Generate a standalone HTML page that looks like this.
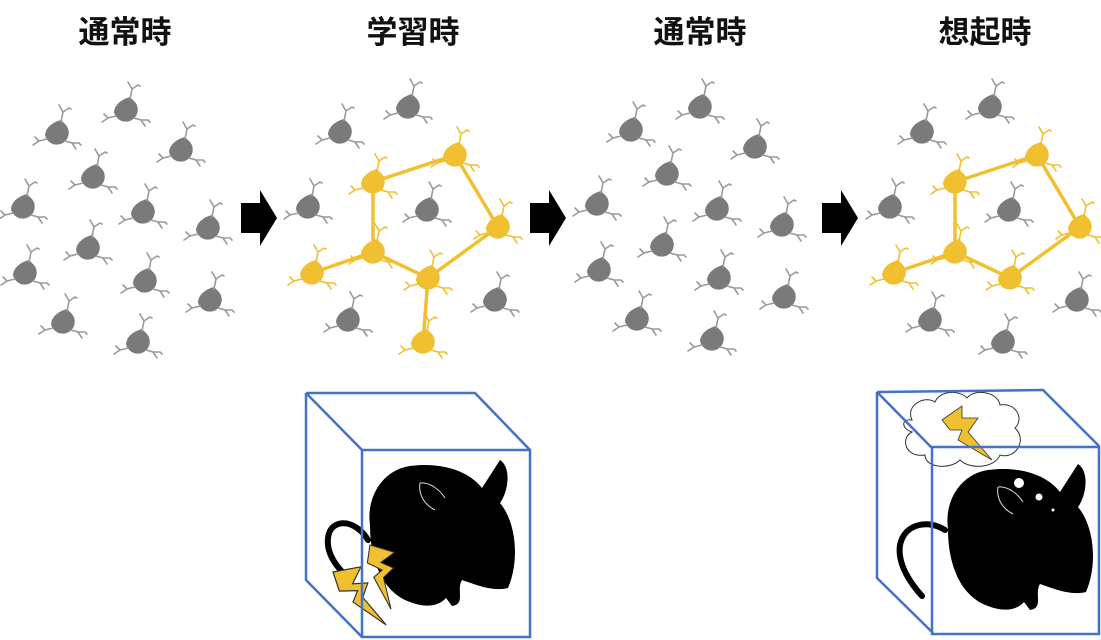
<!DOCTYPE html>
<html><head><meta charset="utf-8"><style>
html,body{margin:0;padding:0;background:#fff;}
svg{display:block}
text{font-family:"Liberation Sans","Noto Sans CJK JP",sans-serif;font-weight:bold;font-size:31px;fill:#111}
</style></head><body>
<svg width="1101" height="640" viewBox="0 0 1101 640" xmlns="http://www.w3.org/2000/svg">
<defs>
<g id="nb">
  <path d="M-12,2 A12,12 0 1 0 9,-8 L4,-13 C0,-12 -11,-8 -12,2 Z"/>
</g>
<g id="nd" fill="none" stroke-width="1.6" stroke-linecap="round">
  <path d="M4,-11 L6,-21 M6,-21 L2,-28 M6,-21 L12,-25 L14,-24"/>
  <path d="M-10,6 L-18,8 M-18,8 L-22,4 M-18,8 L-24,12"/>
  <path d="M8,8 L15,10 L19,16 M15,10 L22,10 L24,12"/>
</g>
<g id="g"><use href="#nb" fill="#7a7a7a"/><use href="#nd" stroke="#9a9a9a"/></g>
<g id="y"><use href="#nb" fill="#f0c030"/><use href="#nd" stroke="#f0c030"/></g>
<g id="arrow"><path d="M0,13 L19,13 L19,0 L36,28 L19,56 L19,43 L0,43 Z" fill="#000"/></g>
<path id="bolt" d="M0,0 L18,-6 L14,6 L24,4 L22,14 L40,30 L16,18 L18,10 L6,12 Z" fill="#f0c030" stroke="#333" stroke-width="0.8"/>
<g id="mouse">
  <path d="M370,525 C366,498 382,470 410,466 C440,462 468,470 482,488 L500,460 C512,468 508,492 500,503 C516,522 520,560 508,588 C492,592 474,584 462,580 C456,590 466,604 452,606 L446,598 C436,609 420,606 410,602 C382,592 370,560 370,525 Z" fill="#000"/>
  <path d="M420,483 C430,482 440,490 445,498 M420,483 C418,495 425,505 435,510" fill="none" stroke="#ddd" stroke-width="1"/>
</g>
</defs>

<text x="125" y="43" text-anchor="middle">通常時</text>
<text x="413" y="43" text-anchor="middle">学習時</text>
<text x="700" y="43" text-anchor="middle">通常時</text>
<text x="985" y="43" text-anchor="middle">想起時</text>

<g id="p1">
<use href="#g" x="57" y="133"/><use href="#g" x="126" y="110"/><use href="#g" x="181" y="150"/>
<use href="#g" x="93" y="177"/><use href="#g" x="23" y="207"/><use href="#g" x="143" y="212"/>
<use href="#g" x="208" y="228"/><use href="#g" x="88" y="248"/><use href="#g" x="25" y="273"/>
<use href="#g" x="145" y="281"/><use href="#g" x="210" y="300"/><use href="#g" x="63" y="322"/>
<use href="#g" x="138" y="342"/>
</g>
<use href="#p1" x="574" y="-3"/>

<use href="#arrow" x="241" y="190"/>
<use href="#arrow" x="530" y="190"/>
<use href="#arrow" x="822" y="190"/>

<g id="p2">
<use href="#g" x="340" y="132"/><use href="#g" x="408" y="107"/><use href="#g" x="308" y="207"/>
<use href="#g" x="427" y="210"/><use href="#g" x="348" y="320"/><use href="#g" x="495" y="300"/>
<g stroke="#f0c030" stroke-width="3.5" fill="none">
<path d="M373,182 L455,155 L498,227 L428,278 L373,252 Z M373,252 L312,273"/>
</g>
<use href="#y" x="373" y="182"/><use href="#y" x="455" y="155"/><use href="#y" x="498" y="227"/>
<use href="#y" x="373" y="252"/><use href="#y" x="428" y="278"/><use href="#y" x="312" y="273"/>
</g>
<line x1="428" y1="278" x2="423" y2="342" stroke="#f0c030" stroke-width="3.5"/>
<use href="#y" x="423" y="342"/>
<use href="#p2" x="582" y="0"/>
<use href="#g" x="1003" y="342"/>

<use href="#mouse"/>
<path d="M368,540 C355,518 330,518 328,538 C326,556 340,570 348,578" fill="none" stroke="#000" stroke-width="6" stroke-linecap="round"/>
<use href="#bolt" transform="translate(370,545) rotate(35) scale(1.35)"/>
<use href="#bolt" transform="translate(333,572) rotate(8) scale(1.5)"/>
<g fill="none" stroke="#4472c4" stroke-width="2.5">
<path d="M306,393 L475,393 L530,450 M306,393 L362,450 M306,393 L306,580 L362,637"/>
<rect x="362" y="450" width="168" height="187"/>
</g>

<use href="#mouse" transform="translate(578,4)"/>
<path d="M945,530 C930,520 905,522 900,545 C897,565 912,585 922,596" fill="none" stroke="#000" stroke-width="6" stroke-linecap="round"/>
<circle cx="1019" cy="483" r="5" fill="#fff"/><circle cx="1039" cy="497" r="3.5" fill="#fff"/><circle cx="1053" cy="510" r="1.5" fill="#fff"/>
<path d="M912,420 C905,405 925,395 935,402 C940,390 960,390 967,398 C975,388 998,392 1000,405 C1015,402 1025,418 1015,428 C1028,440 1015,460 1000,455 C995,468 970,470 960,460 C950,470 925,468 925,455 C905,458 900,438 912,432 C900,428 902,418 912,420 Z" fill="#fff" stroke="#333" stroke-width="1"/>
<path d="M942,420 L962,406 L962,418 L978,418 L968,432 L992,460 L958,440 L962,430 L950,430 Z" fill="#f0c030" stroke="#333" stroke-width="0.8"/>
<g fill="none" stroke="#4472c4" stroke-width="2.5">
<path d="M877,392 L1043,390 L1099,446 M877,392 L932,448 M877,392 L877,578 L933,633"/>
<rect x="932" y="447" width="167" height="187"/>
</g>
</svg>
</body></html>
